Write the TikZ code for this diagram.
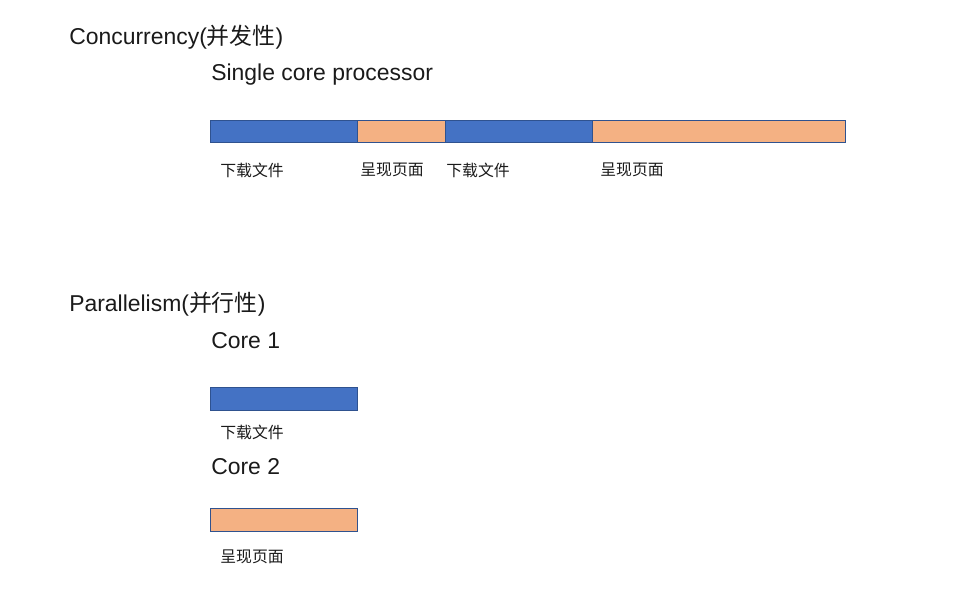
\documentclass[tikz,border=0pt]{standalone}
\usepackage{fontspec}
\setmainfont{Liberation Sans}
\newfontfamily\cjk{Noto Sans CJK SC}
\definecolor{bblue}{HTML}{4472C4}
\definecolor{borange}{HTML}{F4B183}
\definecolor{bedge}{HTML}{2F528F}
\definecolor{txt}{HTML}{1A1A1A}
\begin{document}
\begin{tikzpicture}[x=0.75pt,y=-0.75pt,
  title/.style={anchor=west,inner sep=0pt,text=txt,font=\fontsize{17.2}{19}\selectfont},
  lbl/.style={anchor=west,inner sep=0pt,text=txt,font=\cjk\fontsize{11.9}{13}\selectfont},
  bluebar/.style={fill=bblue,draw=bedge,line width=0.5pt},
  orangebar/.style={fill=borange,draw=bedge,line width=0.5pt}]
\useasboundingbox (0,0) rectangle (959,593);
\node[title] (t1) at (69,37) {Concurrency({\cjk 并发性})};
\node[title] (t2) at (211,75) {Single core processor};
\draw[bluebar] (210,120) rectangle (357,142);
\draw[orangebar] (357,120) rectangle (445,142);
\draw[bluebar] (445,120) rectangle (592,142);
\draw[orangebar] (592,120) rectangle (845,142);
\node[lbl] (l1) at (220,170) {下载文件};
\node[lbl] (l2) at (360,170) {呈现页面};
\node[lbl] (l3) at (446,170) {下载文件};
\node[lbl] (l4) at (600,170) {呈现页面};
\node[title] (t3) at (69,304) {Parallelism({\cjk 并行性})};
\node[title] (c1) at (211,341) {Core 1};
\draw[bluebar] (210,387) rectangle (357,410);
\node[lbl] (l5) at (220,432) {下载文件};
\node[title] (c2) at (211,467) {Core 2};
\draw[orangebar] (210,508) rectangle (357,531);
\node[lbl] (l6) at (220,557) {呈现页面};
\end{tikzpicture}
\end{document}
